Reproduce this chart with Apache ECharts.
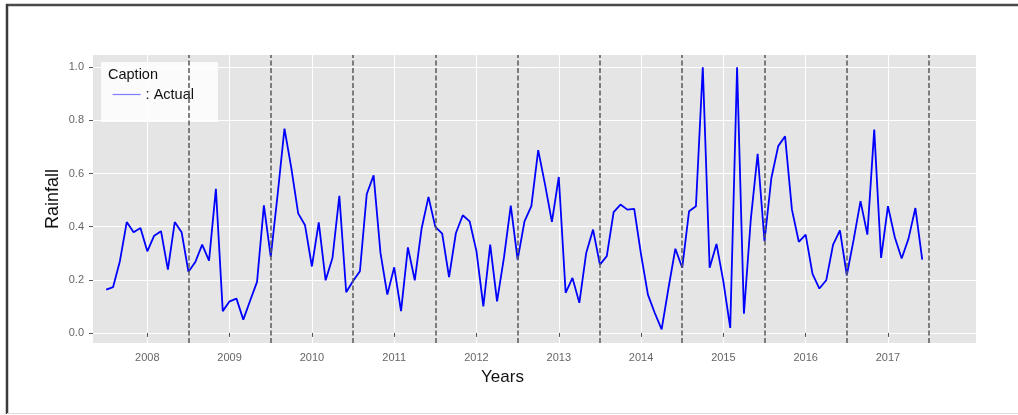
<!DOCTYPE html>
<html>
<head>
<meta charset="utf-8">
<script src="https://cdn.jsdelivr.net/npm/echarts@6/dist/echarts.min.js"></script>
<style>
  html, body { margin: 0; padding: 0; background: #ffffff; }
  #chart { width: 1018px; height: 415px; }
</style>
</head>
<body>
<div id="chart"></div>
<script>
// ---- data ----
const startYear = 2007.5;               // first monthly observation (mid 2007)
const rainfall = [
  0.163, 0.172, 0.270, 0.417, 0.379, 0.395, 0.307, 0.366, 0.383, 0.238, 0.417, 0.379,
  0.230, 0.267, 0.332, 0.272, 0.542, 0.082, 0.119, 0.129, 0.050, 0.122, 0.192, 0.480,
  0.286, 0.520, 0.769, 0.620, 0.450, 0.405, 0.250, 0.416, 0.198, 0.282, 0.516, 0.153,
  0.195, 0.232, 0.523, 0.593, 0.301, 0.144, 0.247, 0.082, 0.322, 0.198, 0.393, 0.512,
  0.399, 0.374, 0.210, 0.376, 0.443, 0.420, 0.307, 0.100, 0.332, 0.119, 0.282, 0.479,
  0.276, 0.420, 0.477, 0.688, 0.558, 0.418, 0.587, 0.151, 0.207, 0.113, 0.301, 0.389,
  0.257, 0.289, 0.455, 0.483, 0.464, 0.467, 0.295, 0.144, 0.075, 0.013, 0.169, 0.317,
  0.245, 0.458, 0.477, 1.000, 0.245, 0.335, 0.194, 0.019, 1.000, 0.072, 0.427, 0.674,
  0.345, 0.583, 0.703, 0.740, 0.464, 0.343, 0.370, 0.222, 0.167, 0.198, 0.332, 0.386,
  0.217, 0.351, 0.496, 0.370, 0.765, 0.282, 0.477, 0.360, 0.280, 0.355, 0.470, 0.276
];
const yearTicks = [2008, 2009, 2010, 2011, 2012, 2013, 2014, 2015, 2016, 2017];
const yTicks = [0.0, 0.2, 0.4, 0.6, 0.8, 1.0];
const dividers = [2008.5, 2009.5, 2010.5, 2011.5, 2012.5, 2013.5, 2014.5, 2015.5, 2016.5, 2017.5];
const seriesName = 'Actual';

// monthly x positions (decimal years)
const points = rainfall.map((v, i) => [startYear + i / 12, v]);

const chart = echarts.init(document.getElementById('chart'), null, { renderer: 'canvas' });

const tickFont = { fontFamily: 'Liberation Sans, Arial, sans-serif', fontSize: 11, color: '#666' };

chart.setOption({
  animation: false,
  backgroundColor: '#ffffff',
  title: {
    text: 'Caption',
    left: 108,
    top: 67,
    padding: 0,
    z: 10,
    textStyle: { fontFamily: 'Liberation Sans, Arial, sans-serif', fontSize: 14.5, fontWeight: 'normal', color: '#111' }
  },
  legend: {
    left: 101,
    top: 62,
    orient: 'vertical',
    padding: [25, 24, 20, 11],
    backgroundColor: 'rgba(255,255,255,0.82)',
    borderWidth: 0,
    itemWidth: 28,
    itemHeight: 14,
    formatter: ': {name}',
    textStyle: { fontFamily: 'Liberation Sans, Arial, sans-serif', fontSize: 14.5, color: '#111' },
    lineStyle: { color: '#7f7fff', width: 1.2 },
    itemStyle: { opacity: 0 },
    data: [seriesName]
  },
  grid: {
    left: 93, right: 42, top: 55, bottom: 72,
    show: true, backgroundColor: '#e5e5e5', borderWidth: 0
  },
  xAxis: {
    type: 'value',
    min: 2007.34,
    max: 2018.07,
    name: 'Years',
    nameLocation: 'middle',
    nameGap: 26,
    nameMoveOverlap: false,
    nameTextStyle: { fontFamily: 'Liberation Sans, Arial, sans-serif', fontSize: 17, color: '#111', padding: [0, 64, 0, 0] },
    axisLine: { show: false },
    axisTick: { show: true, length: 4, lineStyle: { color: '#555' }, customValues: yearTicks },
    axisLabel: Object.assign({ margin: 9, customValues: yearTicks, formatter: v => String(v) }, tickFont),
    splitLine: { show: true, lineStyle: { color: '#ffffff', width: 1 } }
  },
  yAxis: {
    type: 'value',
    min: -0.038,
    max: 1.046,
    name: 'Rainfall',
    nameLocation: 'middle',
    nameRotate: 90,
    nameGap: 31,
    nameMoveOverlap: false,
    nameTextStyle: { fontFamily: 'Liberation Sans, Arial, sans-serif', fontSize: 18, color: '#111' },
    axisLine: { show: false },
    axisTick: { show: true, length: 4, lineStyle: { color: '#555' }, customValues: yTicks },
    axisLabel: Object.assign({ margin: 9, customValues: yTicks, formatter: v => v.toFixed(1) }, tickFont),
    splitLine: { show: true, lineStyle: { color: '#ffffff', width: 1 } }
  },
  graphic: [
    { type: 'line', silent: true, shape: { x1: 6, y1: 5, x2: 1018, y2: 5 }, style: { stroke: '#4a4a4a', lineWidth: 2.5 } },
    { type: 'line', silent: true, shape: { x1: 7, y1: 4, x2: 7, y2: 414 }, style: { stroke: '#3a3a3a', lineWidth: 2.5 } },
    { type: 'line', silent: true, shape: { x1: 7, y1: 413.5, x2: 1018, y2: 413.5 }, style: { stroke: '#dddddd', lineWidth: 1 } }
  ],
  series: [{
    name: seriesName,
    type: 'line',
    data: points,
    symbol: 'none',
    lineStyle: { color: '#0000ff', width: 1.8 },
    itemStyle: { color: '#0000ff' },
    z: 3,
    markLine: {
      silent: true,
      symbol: 'none',
      label: { show: false },
      lineStyle: { color: '#5a5a5a', width: 1.5, type: [5, 2.5] },
      data: dividers.map(d => ({ xAxis: d }))
    }
  }]
});
</script>
</body>
</html>
